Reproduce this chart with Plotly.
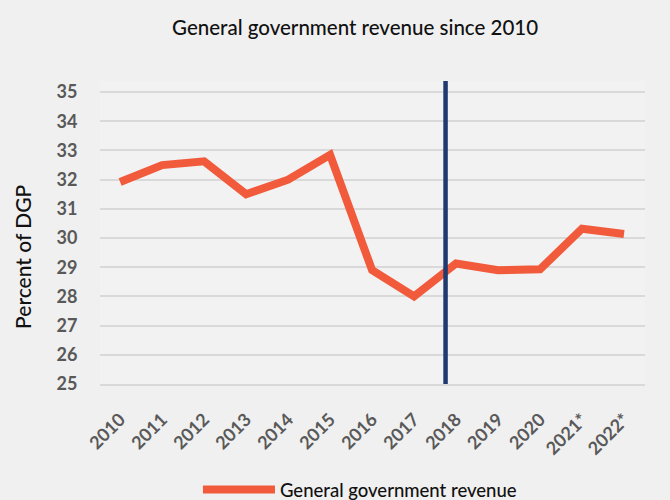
import plotly.graph_objects as go

# General government revenue, percent of GDP
years = ["2010", "2011", "2012", "2013", "2014", "2015", "2016",
         "2017", "2018", "2019", "2020", "2021*", "2022*"]
revenue = [31.92, 32.5, 32.63, 31.5, 32.0, 32.85, 28.9,
           28.0, 29.13, 28.9, 28.93, 30.32, 30.14]
y_ticks = [25, 26, 27, 28, 29, 30, 31, 32, 33, 34, 35]
divider_pos = 7.75  # break marker between 2017 and 2018

x_idx = list(range(len(years)))

fig = go.Figure()
fig.add_trace(go.Scatter(
    x=x_idx, y=revenue, mode="lines",
    name="General government revenue",
    line=dict(color="#F15A3A", width=8),
))
fig.add_trace(go.Scatter(
    x=[divider_pos, divider_pos], y=[25, 35.38], mode="lines",
    line=dict(color="#1F3A6E", width=4.5),
    showlegend=False, hoverinfo="skip",
))

tick_font = dict(family="Lato", size=18, color="#595959", weight="bold")

fig.update_layout(
    width=670, height=500,
    paper_bgcolor="#F0F0F0", plot_bgcolor="#F2F2F2",
    margin=dict(l=100, r=25, t=81, b=116, autoexpand=False),
    font=dict(family="Lato", color="#595959"),
    title=dict(text="General government revenue since 2010",
               x=0.53, xanchor="center", y=1 - 28 / 500, yanchor="middle",
               font=dict(family="Lato", size=20.5, color="#111111", weight=500)),
    showlegend=True,
    legend=dict(orientation="h", x=0.477, xanchor="center",
                y=-0.35, yanchor="middle",
                font=dict(family="Lato", size=18.5, color="#111111", weight=500),
                itemwidth=72),
    xaxis=dict(
        range=[-0.48, 12.5], tickmode="array", tickvals=x_idx, ticktext=years,
        tickangle=-45, showgrid=False, zeroline=False, automargin=False,
        showline=True, linecolor="#D9D9D9", linewidth=2,
        ticks="outside", ticklen=16, tickcolor="rgba(0,0,0,0)",
        tickfont=tick_font,
    ),
    yaxis=dict(
        range=[25, 35.38], tickmode="array", tickvals=y_ticks,
        showgrid=True, gridcolor="#D9D9D9", gridwidth=2, automargin=False,
        zeroline=False, showline=False,
        ticks="outside", ticklen=18, tickcolor="rgba(0,0,0,0)",
        tickfont=tick_font,
    ),
    annotations=[dict(
        text="Percent of DGP", textangle=-90,
        xref="paper", yref="paper", x=-0.141, y=0.42,
        xanchor="center", yanchor="middle", showarrow=False,
        font=dict(family="Lato", size=21, color="#111111", weight=500),
    )],
)

fig.write_html("out.html")
